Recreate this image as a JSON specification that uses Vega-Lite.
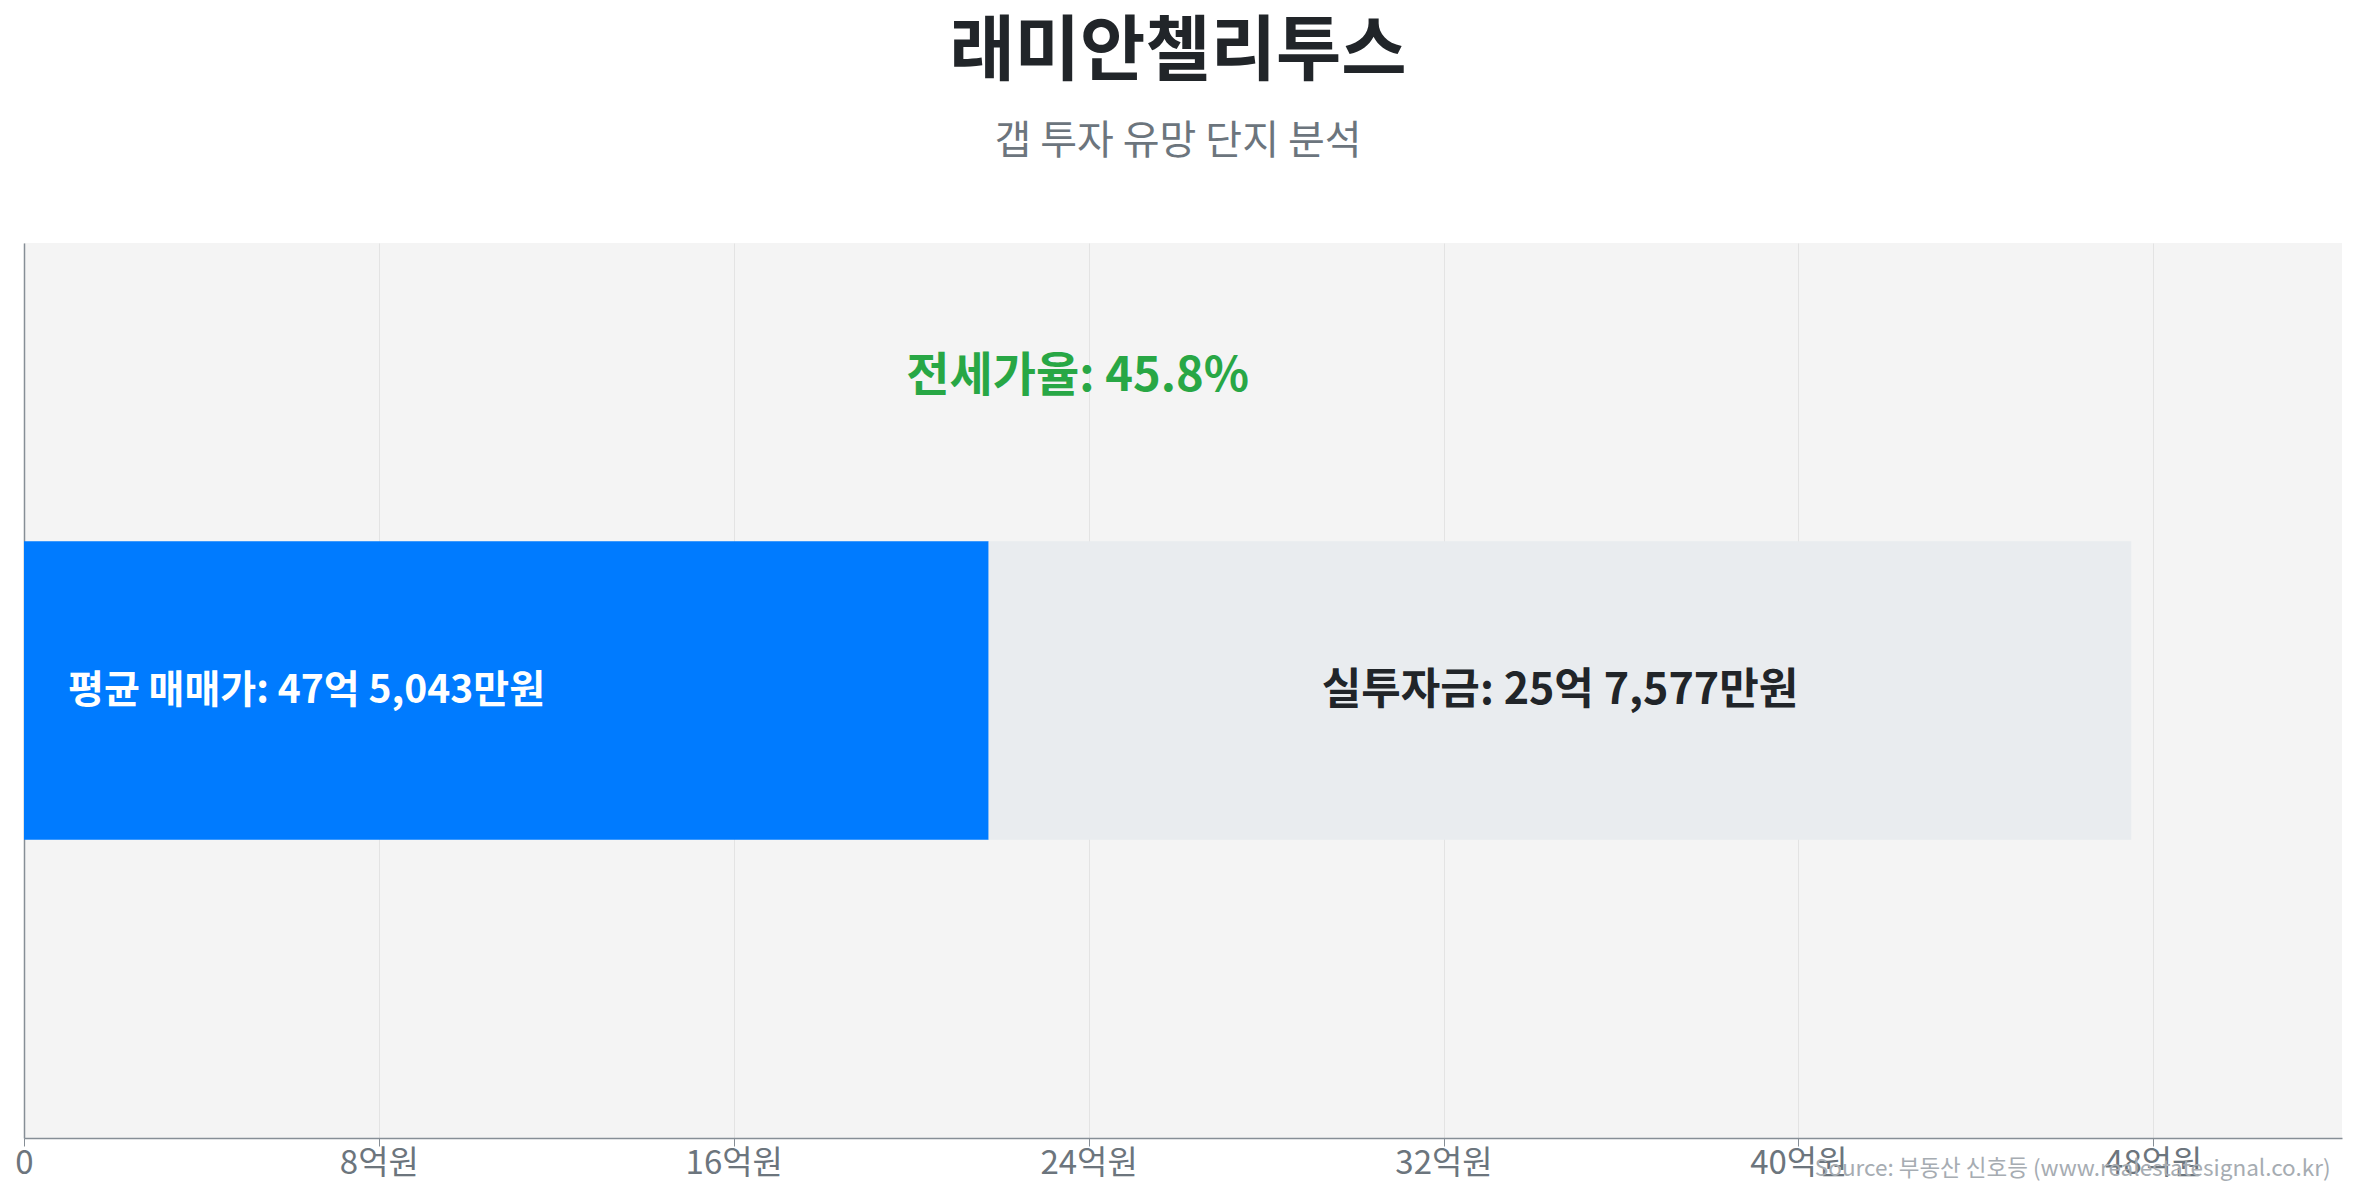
{
  "$schema": "https://vega.github.io/schema/vega-lite/v6.json",
  "width": 2318,
  "height": 895,
  "autosize": {"type": "none"},
  "padding": {"left": 24, "top": 243, "right": 15, "bottom": 62},
  "background": "#ffffff",
  "title": {
    "text": "래미안첼리투스",
    "subtitle": "갭 투자 유망 단지 분석",
    "anchor": "middle",
    "font": "Noto Sans CJK KR",
    "fontSize": 71,
    "fontWeight": "bold",
    "color": "#212529",
    "subtitleFont": "Noto Sans CJK KR",
    "subtitleFontSize": 40,
    "subtitleColor": "#6c757d",
    "subtitlePadding": 33,
    "offset": 80,
    "dx": -5
  },
  "data": {
    "values": [
      {"단지": "래미안첼리투스", "항목": "전세금", "금액": 21.7466, "순서": 1, "라벨": "평균 매매가: 47억 5,043만원"},
      {"단지": "래미안첼리투스", "항목": "실투자금", "금액": 25.7577, "순서": 2, "라벨": "실투자금: 25억 7,577만원"}
    ]
  },
  "encoding": {
    "y": {
      "field": "단지",
      "type": "nominal",
      "scale": {"paddingInner": 0, "paddingOuter": 1},
      "axis": {"labels": false, "ticks": false, "title": null, "domainColor": "#868e96", "domainWidth": 1.5}
    }
  },
  "layer": [
    {
      "mark": {"type": "bar"},
      "encoding": {
        "x": {
          "field": "금액",
          "type": "quantitative",
          "stack": "zero",
          "scale": {"domain": [0, 52.2547], "nice": false},
          "axis": {
            "values": [0, 8, 16, 24, 32, 40, 48],
            "labelExpr": "datum.value == 0 ? '0' : datum.value + '억원'",
            "labelFont": "Noto Sans CJK KR",
            "labelFontSize": 33,
            "labelColor": "#6c757d",
            "labelFlush": false,
            "labelOverlap": false,
            "labelBound": false,
            "labelPadding": 1,
            "tickSize": 8,
            "tickColor": "#868e96",
            "domainColor": "#868e96",
            "domainWidth": 1.5,
            "gridColor": "#e3e3e3",
            "gridWidth": 1,
            "title": "Source: 부동산 신호등 (www.realestatesignal.co.kr)",
            "titleFont": "Noto Sans CJK KR",
            "titleFontSize": 22.5,
            "titleFontWeight": "normal",
            "titleColor": "#a6acb2",
            "titleAlign": "right",
            "titleAnchor": "end",
            "titleX": 2306,
            "titleY": 30,
            "titleBaseline": "middle"
          }
        },
        "order": {"field": "순서", "type": "quantitative"},
        "color": {
          "field": "항목",
          "type": "nominal",
          "scale": {"domain": ["전세금", "실투자금"], "range": ["#007bff", "#e9ecef"]},
          "legend": null
        }
      }
    },
    {
      "transform": [{"filter": "datum['순서'] == 1"}],
      "mark": {"type": "text", "align": "left", "baseline": "middle", "dx": 44, "font": "Noto Sans CJK KR", "fontSize": 39, "fontWeight": "bold", "color": "#ffffff"},
      "encoding": {
        "x": {"datum": 0, "type": "quantitative"},
        "text": {"field": "라벨"}
      }
    },
    {
      "transform": [{"filter": "datum['순서'] == 2"}],
      "mark": {"type": "text", "align": "center", "baseline": "middle", "font": "Noto Sans CJK KR", "fontSize": 43, "fontWeight": "bold", "color": "#212529"},
      "encoding": {
        "x": {"datum": 34.6254, "type": "quantitative"},
        "text": {"field": "라벨"}
      }
    },
    {
      "data": {"values": [{"단지": "래미안첼리투스", "라벨": "전세가율: 45.8%"}]},
      "mark": {"type": "text", "align": "center", "baseline": "middle", "dy": -314, "font": "Noto Sans CJK KR", "fontSize": 47, "fontWeight": "bold", "color": "#28a745"},
      "encoding": {
        "x": {"datum": 23.7522, "type": "quantitative"},
        "text": {"field": "라벨"}
      }
    }
  ],
  "config": {
    "view": {"fill": "#f4f4f4", "stroke": null},
    "font": "Noto Sans CJK KR"
  }
}
